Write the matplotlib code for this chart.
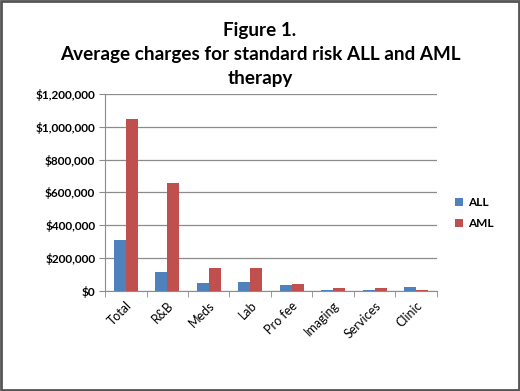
import numpy as np
import matplotlib.pyplot as plt
from matplotlib.ticker import FuncFormatter
from matplotlib.patches import Rectangle

categories = ["Total", "R&B", "Meds", "Lab", "Pro fee", "Imaging", "Services", "Clinic"]
all_vals = [310000, 116000, 50000, 57000, 36000, 8000, 8000, 22000]
aml_vals = [1045000, 660000, 138000, 140000, 45000, 20000, 20000, 3000]

plt.rcParams['font.family'] = ['Lato', 'DejaVu Sans']

fig = plt.figure(figsize=(5.2, 3.91), dpi=100)
ax = fig.add_axes([0.202, 0.256, 0.638, 0.504])

x = np.arange(len(categories))
w = 0.29
ax.bar(x - w / 2, all_vals, w, color="#4F81BD", label="ALL", zorder=3)
ax.bar(x + w / 2, aml_vals, w, color="#C0504D", label="AML", zorder=3)

ax.set_xlim(-0.5, len(categories) - 0.5)
ax.set_ylim(0, 1200000)
ax.set_yticks(np.arange(0, 1200001, 200000))
ax.yaxis.set_major_formatter(FuncFormatter(lambda v, p: "${:,.0f}".format(v)))
ax.grid(axis="y", color="#8c8c8c", linewidth=0.9, zorder=0)

ax.set_xticks(x)
ax.set_xticklabels(categories, rotation=45, ha="right", rotation_mode="anchor",
                   fontsize=9)
ax.tick_params(axis="x", length=0, pad=6)
# tick marks between categories
ax.set_xticks(np.arange(-0.5, len(categories)), minor=True)
ax.tick_params(axis="x", which="minor", length=4, color="#8c8c8c")
ax.tick_params(axis="y", length=4, color="#8c8c8c", labelsize=8.5, pad=3)
for lbl in ax.get_yticklabels():
    lbl.set_fontweight("bold")

for s in ["top", "right"]:
    ax.spines[s].set_visible(False)
for s in ["left", "bottom"]:
    ax.spines[s].set_color("#8c8c8c")

fig.text(0.5, 0.86, "Figure 1.\nAverage charges for standard risk ALL and AML\ntherapy",
         ha="center", va="center", fontsize=13.6, fontweight="bold", linespacing=1.5)

leg = fig.legend(loc="center left", bbox_to_anchor=(0.855, 0.455), frameon=False,
                 handlelength=0.7, handleheight=0.7, handletextpad=0.4,
                 prop={"weight": "bold", "size": 8.5}, labelspacing=0.9)

fig.patches.append(Rectangle((0.002, 0.003), 0.996, 0.994, transform=fig.transFigure,
                             fill=False, edgecolor="#555555", linewidth=2))

fig.savefig("out.png", dpi=100)
